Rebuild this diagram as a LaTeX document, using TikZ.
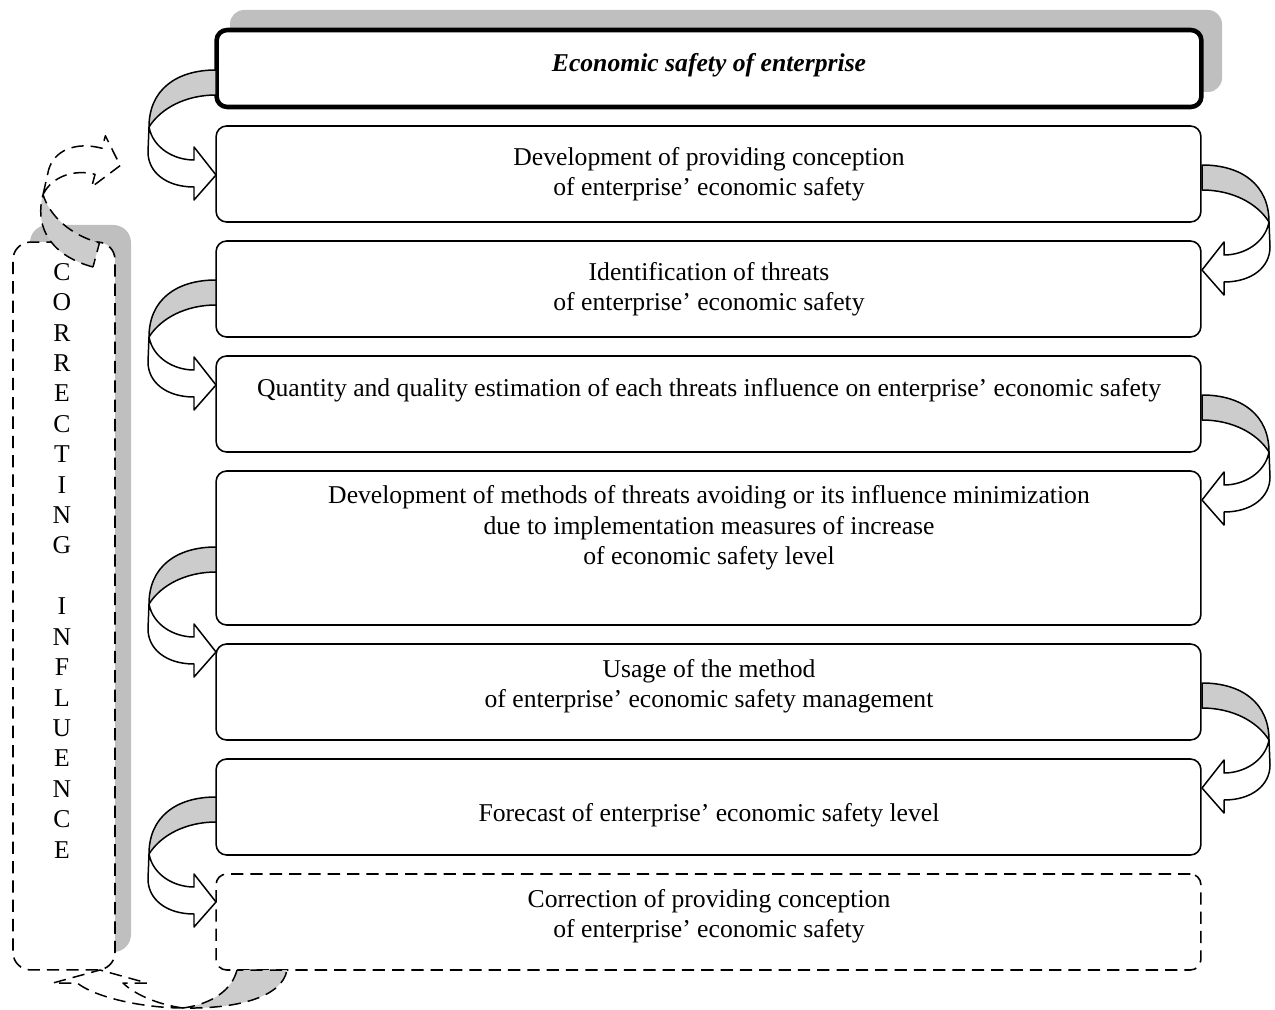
\documentclass[tikz,border=0pt]{standalone}
\usepackage{fontspec}
\setmainfont{Liberation Serif}
\tikzset{
  stage/.style={draw, line width=0.9pt, rounded corners=6pt, fill=white, minimum width=19.7cm, minimum height=1.92cm, inner sep=0pt},
  txt/.style={align=center, font=\fontsize{14.6}{17.3}\selectfont},
  dashes/.style={dash pattern=on 7pt off 4pt},
  pics/twist/.style={code={
    \filldraw[fill=gray!40, line width=0.85pt] (0,0) .. controls (40,0) and (67,20) .. (67,57) .. controls (55,38) and (30,25) .. (0,25) -- cycle;
    \filldraw[fill=white, line width=0.85pt] (67,57) .. controls (63,78) and (42,90) .. (22,90) -- (22,77) -- (0,105) -- (22,130) -- (22,117) .. controls (50,117) and (68,102) .. (68,82) -- cycle;
  }}
}
\begin{document}
\begin{tikzpicture}[x=0.02cm, y=-0.02cm, line join=round]
      \useasboundingbox (0,0) rectangle (1275,1010);
      % Top box:
      \fill[gray!50, rounded corners=8pt] (230,10) rectangle (1222,92);
      \node[stage, line width=2.6pt, minimum height=1.54cm] (s0) at (709,68.5) {};
      \node[txt, font=\fontsize{14.6}{17.3}\selectfont\bfseries\itshape] (t0) at (709,65) {Economic safety of enterprise};
      % Stages:
      \node[stage] (s1) at (708.5,174) {};
      \node[stage] (s2) at (708.5,289) {};
      \node[stage] (s3) at (708.5,404) {};
      \node[stage, minimum height=3.08cm] (s4) at (708.5,548) {};
      \node[stage] (s5) at (708.5,692) {};
      \node[stage] (s6) at (708.5,807) {};
      \node[stage, dashes] (s7) at (708.5,922) {};
      \node[txt] (t1) at (709,174) {Development of providing conception\\of enterprise’ economic safety};
      \node[txt] (t2) at (709,289) {Identification of threats\\of enterprise’ economic safety};
      \node[txt] (t3) at (709,390) {Quantity and quality estimation of each threats influence on enterprise’ economic safety};
      \node[txt] (t4) at (709,528) {Development of methods of threats avoiding or its influence minimization\\due to implementation measures of increase\\of economic safety level};
      \node[txt] (t5) at (709,686) {Usage of the method\\of enterprise’ economic safety management};
      \node[txt] (t6) at (709,815) {Forecast of enterprise’ economic safety level};
      \node[txt] (t7) at (709,916) {Correction of providing conception\\of enterprise’ economic safety};
      % Correcting influence:
      \fill[gray!50, rounded corners=10pt] (30,225) rectangle (131,952);
      \node[draw, dashes, line width=0.9pt, rounded corners=10pt, fill=white, minimum width=2.04cm, minimum height=14.56cm] (panel) at (64,606) {};
      \foreach \ch [count=\i from 0] in {C,O,R,R,E,C,T,I,N,G,{},I,N,F,L,U,E,N,C,E}
        \node[txt] (ch\i) at (62,{272+30.4*\i}) {\ch};
      % Twisted arrows:
      \foreach \y in {70,280,547,797} \pic[xscale=-1] at (216,\y) {twist};
      \foreach \y in {165,395,683} \pic at (1202,\y) {twist};
      \pic[dashes, rotate=165] at (93,267) {twist};
      \filldraw[dashes, fill=gray!40, line width=0.85pt] (237,970) .. controls (232,990) and (212,1004) .. (183,1008) .. controls (235,1009) and (282,998) .. (287,970) -- cycle;
      \draw[dashes, line width=0.85pt] (183,1008) .. controls (150,1008) and (100,1000) .. (77,983) -- (53,983) -- (100,970) -- (147,983) -- (123,983) .. controls (135,995) and (160,1005) .. (183,1008);
\end{tikzpicture}
\end{document}
